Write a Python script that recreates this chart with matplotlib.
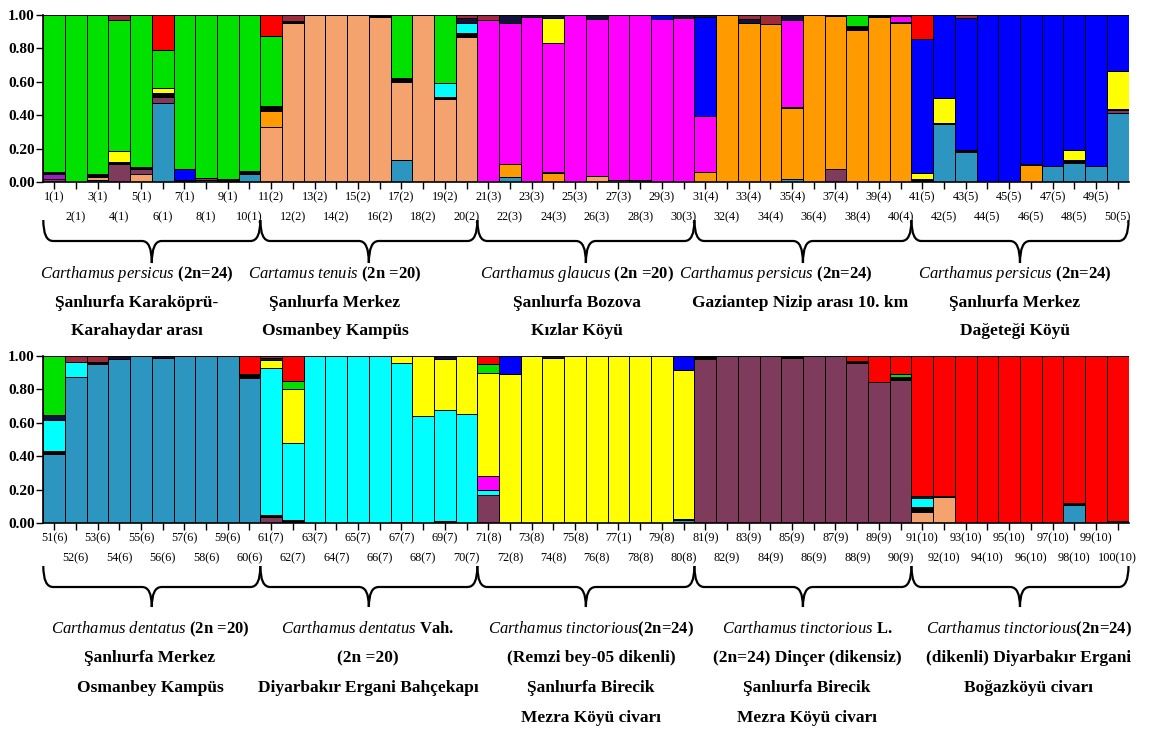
import matplotlib
matplotlib.use("Agg")
import matplotlib.pyplot as plt
import matplotlib.transforms as mtransforms
from matplotlib.path import Path
from matplotlib.patches import PathPatch
import numpy as np

plt.rcParams["font.family"] = ["Liberation Serif", "DejaVu Serif"]
plt.rcParams["mathtext.fontset"] = "custom"
plt.rcParams["mathtext.it"] = "Liberation Serif:italic"
plt.rcParams["mathtext.rm"] = "Liberation Serif"

# cluster order (bottom -> top of each bar) and colours
clusters = ["T", "S", "P", "V", "O", "K", "C", "M", "Y", "B", "N", "G", "R", "D"]
cluster_colors = {
    "T": "#2C96C0", "S": "#F4A26E", "P": "#7E3B5C", "V": "#A21CC4",
    "O": "#FF9A00", "K": "#000000", "C": "#00FFFF", "M": "#FF00FF",
    "Y": "#FFFF00", "B": "#0000FF", "N": "#12123C", "G": "#00E100",
    "R": "#FF0000", "D": "#9E2A3C",
}

# membership coefficients, one list per population
pop1 = [
    {"P": .015, "V": .035, "K": .01, "G": .94},
    {"G": 1.0},
    {"S": .02, "T": .01, "K": .015, "G": .955},
    {"P": .11, "K": .01, "Y": .065, "G": .785, "D": .03},
    {"S": .05, "P": .03, "K": .01, "G": .91},
    {"T": .475, "P": .035, "K": .02, "Y": .035, "G": .225, "R": .21},
    {"K": .01, "B": .065, "G": .925},
    {"S": .01, "P": .015, "G": .975},
    {"K": .015, "G": .985},
    {"T": .045, "K": .02, "G": .935},
]
pop2 = [
    {"S": .33, "O": .095, "K": .03, "G": .42, "R": .125},
    {"S": .955, "K": .01, "D": .035},
    {"S": 1.0},
    {"S": 1.0},
    {"S": 1.0},
    {"S": .99, "K": .01},
    {"T": .13, "S": .47, "K": .02, "G": .38},
    {"S": 1.0},
    {"S": .50, "K": .01, "C": .085, "G": .405},
    {"S": .87, "K": .02, "C": .065, "N": .025, "D": .02},
]
pop3 = [
    {"M": .97, "D": .03},
    {"T": .03, "O": .075, "K": .005, "M": .845, "N": .045},
    {"M": .99, "N": .01},
    {"O": .055, "K": .005, "M": .77, "Y": .155, "N": .015},
    {"M": 1.0},
    {"S": .035, "M": .94, "N": .025},
    {"S": .01, "M": .99},
    {"P": .01, "M": .99},
    {"M": .975, "B": .025},
    {"M": .985, "N": .015},
]
pop4 = [
    {"O": .06, "M": .335, "B": .595, "N": .01},
    {"O": 1.0},
    {"O": .955, "N": .02, "D": .025},
    {"O": .945, "D": .055},
    {"T": .02, "O": .425, "K": .005, "M": .52, "N": .03},
    {"O": 1.0},
    {"P": .075, "O": .92, "K": .005},
    {"O": .91, "K": .02, "N": .005, "G": .065},
    {"O": .99, "K": .01},
    {"O": .955, "K": .005, "M": .035, "N": .005},
]
pop5 = [
    {"K": .015, "Y": .04, "B": .80, "R": .145},
    {"T": .345, "K": .01, "Y": .15, "B": .495},
    {"T": .18, "K": .01, "B": .795, "D": .015},
    {"B": 1.0},
    {"B": 1.0},
    {"O": .10, "K": .005, "B": .895},
    {"T": .095, "B": .905},
    {"T": .115, "K": .015, "Y": .06, "B": .81},
    {"T": .095, "B": .905},
    {"T": .415, "P": .015, "K": .01, "Y": .225, "B": .335},
]
pop6 = [
    {"T": .415, "K": .015, "C": .185, "N": .03, "G": .355},
    {"T": .875, "C": .09, "D": .035},
    {"T": .955, "K": .01, "D": .035},
    {"T": .985, "N": .015},
    {"T": 1.0},
    {"T": .99, "N": .01},
    {"T": 1.0},
    {"T": 1.0},
    {"T": 1.0},
    {"T": .87, "K": .02, "R": .11},
]
pop7 = [
    {"P": .035, "K": .01, "C": .885, "Y": .045, "N": .015, "D": .01},
    {"P": .005, "K": .01, "C": .465, "Y": .32, "G": .05, "R": .15},
    {"C": 1.0},
    {"C": 1.0},
    {"C": 1.0},
    {"C": 1.0},
    {"C": .955, "K": .005, "Y": .04},
    {"C": .64, "Y": .36},
    {"C": .665, "K": .01, "Y": .31, "N": .015},
    {"C": .655, "Y": .345},
]
pop8 = [
    {"P": .17, "C": .025, "M": .085, "Y": .62, "G": .05, "R": .05},
    {"Y": .89, "B": .11},
    {"Y": 1.0},
    {"Y": .99, "N": .01},
    {"Y": 1.0},
    {"Y": 1.0},
    {"Y": 1.0},
    {"Y": 1.0},
    {"Y": 1.0},
    {"T": .015, "K": .01, "Y": .89, "B": .085},
]
pop9 = [
    {"P": .98, "K": .02},
    {"P": 1.0},
    {"P": 1.0},
    {"P": 1.0},
    {"P": .99, "K": .01},
    {"P": 1.0},
    {"P": 1.0},
    {"P": .96, "K": .01, "R": .03},
    {"P": .845, "R": .155},
    {"P": .855, "K": .02, "G": .015, "R": .11},
]
pop10 = [
    {"S": .065, "K": .03, "C": .055, "N": .01, "R": .84},
    {"S": .155, "K": .005, "R": .84},
    {"R": 1.0},
    {"R": 1.0},
    {"R": 1.0},
    {"R": 1.0},
    {"R": 1.0},
    {"T": .11, "K": .01, "R": .88},
    {"R": 1.0},
    {"P": .01, "R": .99},
]

# sample labels: number(population); the picture prints 77 as "77(1)"
sample_labels = [f"{i + 1}({i // 10 + 1})" for i in range(100)]
sample_labels[76] = "77(1)"

top_groups = [
    [r"$\mathit{Carthamus\ persicus}$ (2n=24)", "Şanlıurfa Karaköprü-", "Karahaydar arası"],
    [r"$\mathit{Cartamus\ tenuis}$ (2n =20)", "Şanlıurfa Merkez", "Osmanbey Kampüs"],
    [r"$\mathit{Carthamus\ glaucus}$ (2n =20)", "Şanlıurfa Bozova", "Kızlar Köyü"],
    [r"$\mathit{Carthamus\ persicus}$ (2n=24)", "Gaziantep Nizip arası 10. km"],
    [r"$\mathit{Carthamus\ persicus}$ (2n=24)", "Şanlıurfa Merkez", "Dağeteği Köyü"],
]
bottom_groups = [
    [r"$\mathit{Carthamus\ dentatus}$ (2n =20)", "Şanlıurfa Merkez", "Osmanbey Kampüs"],
    [r"$\mathit{Carthamus\ dentatus}$ Vah.", "(2n =20)", "Diyarbakır Ergani Bahçekapı"],
    [r"$\mathit{Carthamus\ tinctorious}$(2n=24)", "(Remzi bey-05 dikenli)",
     "Şanlıurfa Birecik", "Mezra Köyü civarı"],
    [r"$\mathit{Carthamus\ tinctorious}$ L.", "(2n=24) Dinçer (dikensiz)",
     "Şanlıurfa Birecik", "Mezra Köyü civarı"],
    [r"$\mathit{Carthamus\ tinctorious}$(2n=24)", "(dikenli) Diyarbakır Ergani", "Boğazköyü civarı"],
]

pops = [pop1, pop2, pop3, pop4, pop5, pop6, pop7, pop8, pop9, pop10]
Q = np.array([[bar.get(c, 0.0) for c in clusters] for pop in pops for bar in pop])
Q = Q / Q.sum(axis=1, keepdims=True)

W, H = 1154, 738
fig = plt.figure(figsize=(W / 100, H / 100), dpi=100)

# overlay in pixel coordinates for braces and group captions
ov = fig.add_axes([0, 0, 1, 1])
ov.set_xlim(0, W)
ov.set_ylim(H, 0)
ov.axis("off")

x0, x1 = 43.3, 1128.5
ax_top = fig.add_axes([x0 / W, 1 - 182 / H, (x1 - x0) / W, (182 - 15) / H])
ax_bot = fig.add_axes([x0 / W, 1 - 523 / H, (x1 - x0) / W, (523 - 356) / H])


def draw_row(ax, rows, labels):
    x = np.arange(len(rows))
    bottom = np.zeros(len(rows))
    for j, c in enumerate(clusters):
        h = rows[:, j]
        m = h > 0
        if m.any():
            ax.bar(x[m], h[m], bottom=bottom[m], width=1.0, color=cluster_colors[c],
                   edgecolor="black", linewidth=0.7)
        bottom += h
    ax.set_xlim(-0.5, len(rows) - 0.5)
    ax.set_ylim(0, 1.0)
    ax.set_yticks(np.arange(0, 1.01, 0.2))
    ax.set_yticklabels([f"{v:.2f}" for v in np.arange(0, 1.01, 0.2)],
                       fontsize=11, fontweight="bold")
    # odd samples on the first label row, even samples on the second
    ax.set_xticks(x[::2])
    ax.set_xticklabels(labels[::2], fontsize=8.8)
    ax.set_xticks(x[1::2], minor=True)
    ax.set_xticklabels(labels[1::2], minor=True, fontsize=8.8)
    ax.tick_params(axis="x", which="both", length=5, width=1)
    ax.tick_params(axis="x", which="major", pad=2)
    ax.tick_params(axis="x", which="minor", pad=16)
    ax.tick_params(axis="y", length=5, width=1, pad=1)
    for s in ["top", "right"]:
        ax.spines[s].set_visible(False)
    ax.spines["left"].set_linewidth(1.2)
    ax.spines["bottom"].set_linewidth(1.2)


draw_row(ax_top, Q[:50], sample_labels[:50])
draw_row(ax_bot, Q[50:], sample_labels[50:])


def brace(ax, xa, xb, y0, y1, y2, r=0.45):
    tr = mtransforms.blended_transform_factory(ax.transData, ov.transData)
    xm = (xa + xb) / 2
    verts = [(xa, y0), (xa, y1), (xa + r, y1), (xm - r, y1), (xm, y1), (xm, y2),
             (xm, y1), (xm + r, y1), (xb - r, y1), (xb, y1), (xb, y0)]
    codes = [Path.MOVETO, Path.CURVE3, Path.CURVE3, Path.LINETO, Path.CURVE3, Path.CURVE3,
             Path.CURVE3, Path.CURVE3, Path.LINETO, Path.CURVE3, Path.CURVE3]
    ov.add_patch(PathPatch(Path(verts, codes), transform=tr, fill=False,
                           edgecolor="black", linewidth=1.6, clip_on=False))


def captions(groups, centers, ys):
    for lines, cx in zip(groups, centers):
        for k, (txt, y) in enumerate(zip(lines, ys)):
            xx = cx[k] if isinstance(cx, list) else cx
            ov.text(xx, y, txt, ha="center", va="center",
                    fontsize=12 if k == 0 else 12.5, fontweight="bold")


for g in range(5):
    brace(ax_top, g * 10 - 0.5, g * 10 + 9.5, 220, 241, 263)
    brace(ax_bot, g * 10 - 0.5, g * 10 + 9.5, 566, 587, 607)

captions(top_groups, [137, 335, 577, [776, 800], 1015], [274, 303, 331])
captions(bottom_groups, [150, 368, 591, 807, 1029], [629, 658, 688, 718])

fig.savefig("out.png", dpi=100)
